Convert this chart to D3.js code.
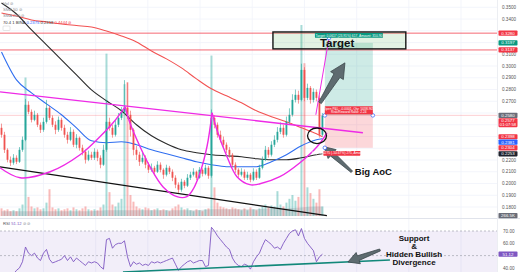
<!DOCTYPE html>
<html lang="en">
<head>
<meta charset="UTF-8">
<title>Chart</title>
<script src="https://cdn.jsdelivr.net/npm/d3@7"></script>
<style>
  body { margin: 0; background: #fff; }
  svg { display: block; font-family: "Liberation Sans", Arial, sans-serif; }
</style>
</head>
<body>
<div id="chart"></div>
<script>
// candle data (one per bar, open = previous close)
var firstOpen = 0.2474;
var closes = [0.2415,0.2287,0.2202,0.2177,0.2219,0.2185,0.2287,0.2372,0.2670,0.2610,
  0.2542,0.2585,0.2500,0.2457,0.2525,0.2644,0.2559,0.2500,0.2457,0.2542,
  0.2474,0.2415,0.2372,0.2440,0.2330,0.2389,0.2304,0.2270,0.2202,0.2245,
  0.2219,0.2270,0.2219,0.2160,0.2287,0.2525,0.2474,0.2415,0.2500,0.2559,
  0.2610,0.2644,0.2585,0.2457,0.2287,0.2245,0.2185,0.2219,0.2160,0.2117,
  0.2134,0.2100,0.2160,0.2117,0.2075,0.2134,0.2100,0.2049,0.1990,0.1947,
  0.2015,0.1981,0.2049,0.2075,0.2100,0.2049,0.2117,0.2083,0.2134,0.2066,
  0.2559,0.2500,0.2415,0.2372,0.2330,0.2287,0.2245,0.2160,0.2117,0.2075,
  0.2100,0.2049,0.2075,0.2032,0.2100,0.2049,0.2134,0.2202,0.2287,0.2245,
  0.2330,0.2372,0.2440,0.2474,0.2415,0.2525,0.2585,0.2712,0.2755,0.2712,
  0.2967,0.2729,0.2814,0.2712,0.2780,0.2729,0.2415,0.2577];
var highs = [0.2510,0.2440,0.2300,0.2230,0.2250,0.2240,0.2310,0.2400,0.2720,0.2700,
  0.2630,0.2620,0.2600,0.2520,0.2560,0.2712,0.2660,0.2580,0.2530,0.2570,
  0.2560,0.2500,0.2440,0.2480,0.2460,0.2420,0.2400,0.2330,0.2290,0.2280,
  0.2270,0.2300,0.2290,0.2240,0.2330,0.2712,0.2560,0.2500,0.2540,0.2600,
  0.2650,0.2880,0.2860,0.2620,0.2470,0.2320,0.2270,0.2260,0.2240,0.2180,
  0.2170,0.2150,0.2190,0.2180,0.2130,0.2160,0.2150,0.2120,0.2070,0.2010,
  0.2040,0.2030,0.2080,0.2100,0.2130,0.2110,0.2140,0.2130,0.2160,0.2150,
  0.2630,0.2580,0.2520,0.2450,0.2400,0.2350,0.2310,0.2260,0.2180,0.2130,
  0.2130,0.2120,0.2100,0.2090,0.2130,0.2120,0.2160,0.2230,0.2320,0.2310,
  0.2360,0.2410,0.2480,0.2520,0.2500,0.2570,0.2640,0.2760,0.2800,0.2790,
  0.3020,0.2990,0.2850,0.2830,0.2810,0.2800,0.2750,0.2600];
var lows = [0.2390,0.2260,0.2180,0.2150,0.2160,0.2165,0.2175,0.2270,0.2360,0.2590,
  0.2520,0.2530,0.2480,0.2430,0.2440,0.2510,0.2540,0.2480,0.2420,0.2440,
  0.2450,0.2390,0.2340,0.2360,0.2310,0.2300,0.2280,0.2240,0.2170,0.2190,
  0.2200,0.2200,0.2190,0.2130,0.2150,0.2270,0.2450,0.2390,0.2400,0.2480,
  0.2540,0.2590,0.2550,0.2400,0.2240,0.2200,0.2150,0.2170,0.2130,0.2090,
  0.2100,0.2070,0.2090,0.2095,0.2040,0.2060,0.2080,0.2020,0.1960,0.1920,
  0.1930,0.1960,0.1970,0.2030,0.2060,0.2030,0.2040,0.2060,0.2070,0.2040,
  0.2050,0.2470,0.2390,0.2350,0.2300,0.2260,0.2220,0.2140,0.2090,0.2050,
  0.2060,0.2030,0.2030,0.2010,0.2020,0.2030,0.2040,0.2120,0.2190,0.2220,
  0.2230,0.2310,0.2350,0.2420,0.2390,0.2400,0.2500,0.2570,0.2690,0.2680,
  0.2700,0.2700,0.2710,0.2680,0.2690,0.2700,0.2390,0.2400];
var volumes = [8,6,7,5,6,5,8,12,145,20,
  10,8,9,7,8,14,28,9,7,8,
  6,7,8,6,9,7,6,8,10,7,
  6,7,6,9,12,170,25,12,10,14,
  18,138,140,22,15,10,8,7,9,8,
  6,7,8,6,7,6,5,8,10,12,
  9,7,8,6,5,7,6,5,7,8,
  168,30,14,10,9,8,7,9,8,7,
  6,8,6,9,7,6,8,10,12,9,
  11,10,26,12,10,14,18,22,16,20,
  200,160,30,24,18,14,28,10];
var rsi = [32,30,28,31,35,38,40,45,57,52,
  50,52,48,46,52,55,47,44,45,46,
  47,50,46,49,45,48,46,44,42,45,
  44,45,44,41,39,63,64,56,59,60,
  60,62,49,41,45,43,44,42,43,42,
  45,44,45,44,45,46,47,48,43,38,
  41,43,45,46,44,45,46,46,41,42,
  73,70,66,63,60,57,55,48,44,42,
  41,43,42,39,45,49,52,58,63,61,
  59,56,57,55,60,64,68,70,71,66,
  72,64,60,57,54,45,49,51.12];

// moving averages, sampled at these bar indices
var maIdx = [0,5,10,15,20,25,30,35,40,45,50,55,60,65,70,75,80,85,90,95,100,105,107];
var ma200 = [0.3452,0.3426,0.3392,0.3375,0.3358,0.3345,0.3332,0.3298,0.3256,0.3205,0.3128,0.3061,0.2984,0.2891,0.2806,0.2746,0.2687,0.2619,0.2568,0.2525,0.2474,0.2423,0.2398];
var ma100 = [0.3537,0.3443,0.3307,0.3180,0.3052,0.2925,0.2797,0.2704,0.2619,0.2500,0.2406,0.2338,0.2287,0.2262,0.2245,0.2236,0.2228,0.2211,0.2202,0.2202,0.2219,0.2245,0.2253];
var ma50 = [0.3120,0.2882,0.2772,0.2678,0.2585,0.2474,0.2364,0.2347,0.2355,0.2330,0.2287,0.2253,0.2219,0.2185,0.2160,0.2143,0.2143,0.2143,0.2185,0.2245,0.2321,0.2372,0.2381];
var volMA = [5,5,5,5,5,5,5,6,6,6,6,6,6,6,7,7,7,7,8,8,9,10,10];

var priceTicks = [0.35,0.34,0.33,0.32,0.31,0.30,0.29,0.28,0.27,0.26,0.25,0.24,0.23,0.22,0.21,0.20,0.19,0.18];
var rsiTicks = [70,60,50,40];

// drawings, in [bar index, price]
var levels = [0.3280, 0.3137];
var trendTop = [[-0.5,0.2780],[120.5,0.2432]];
var trendBottom = [[-0.5,0.2142],[108.5,0.1726]];
var cup1 = [[-0.5,0.2134],[6.2,0.2049],[16.2,0.2100],[26.2,0.2245],[32.8,0.2398],[37.2,0.2517],[41.2,0.2653]];
var cup2 = [[41.2,0.2653],[42.8,0.2517],[46.2,0.2313],[49.5,0.2143],[53.8,0.1973],[58.5,0.1888],[61.8,0.1888],[63.8,0.1947],[66.2,0.2092],[68.5,0.2313],[70.2,0.2602]];
var cup3 = [[70.2,0.2602],[71.8,0.2457],[75.2,0.2227],[78.5,0.2058],[82.8,0.1990],[86.2,0.1998],[92.8,0.2058],[99.5,0.2177],[105.2,0.2313],[108.5,0.2432]];
var riseLine = [[104.8,0.2585],[109.2,0.3239]];
var targetBox = [[90.5,0.3290],[134.8,0.3146]];
var posBars = [107.8,123.8];
var posPrices = [0.2580,0.3197,0.2304]; // entry, target, stop
var aoc = [105.2,0.2406];
var arrowUp = [[106.2,0.2687],[114.5,0.3027]];
var arrowAoc = [[116.8,0.2100],[107.5,0.2313]];
var rsiSupport = [[40.5,36.7],[129.5,46.4]];
var rsiArrow = [[126.2,54.6],[115.5,44.8]];

var W = 520, H = 272, plotW = 497, paneBottom = 218;
var green = "#26a69a", red = "#ef5350", magenta = "#ee2ae6";

var svg = d3.select("#chart").append("svg").attr("width", W).attr("height", H);

var x = d3.scaleLinear().domain([-0.5, 165.2]).range([0, plotW]);
var y = d3.scaleLinear().domain([0.18, 0.35]).range([207, 7.3]);
var yVol = d3.scaleLinear().domain([0, 200]).range([216, 25]);
var yRsi = d3.scaleLinear().domain([30, 70]).range([280.2, 231]);

var defs = svg.append("defs");
defs.append("clipPath").attr("id", "cp").append("rect").attr("width", plotW).attr("height", paneBottom);
defs.append("clipPath").attr("id", "cr").append("rect").attr("y", paneBottom + 1).attr("width", plotW).attr("height", H - paneBottom);

var bars = closes.map(function(c, i) {
  return {i: i, o: i ? closes[i - 1] : firstOpen, c: c, h: highs[i], l: lows[i], v: volumes[i], r: rsi[i]};
});

// grid
var grid = svg.append("g");
grid.selectAll(".hg").data(priceTicks).enter().append("line")
  .attr("x1", 0).attr("x2", plotW).attr("y1", d => y(d)).attr("y2", d => y(d))
  .attr("stroke", "#f0f3fa").attr("stroke-width", 0.8);
grid.selectAll(".vg").data(d3.range(14, 165, 17.4)).enter().append("line")
  .attr("x1", d => x(d)).attr("x2", d => x(d)).attr("y1", 0).attr("y2", H)
  .attr("stroke", "#f0f3fa").attr("stroke-width", 0.8);

var pane = svg.append("g").attr("clip-path", "url(#cp)");

// volume + volume MA
pane.selectAll(".vol").data(bars).enter().append("rect")
  .attr("x", d => x(d.i) - 1).attr("width", 2)
  .attr("y", d => yVol(d.v)).attr("height", d => yVol(0) - yVol(d.v))
  .attr("fill", d => d.c >= d.o ? "rgba(38,166,154,0.4)" : "rgba(239,83,80,0.4)");
pane.append("path")
  .datum(maIdx.map((d, k) => [d, volMA[k]]))
  .attr("d", d3.area().x(d => x(d[0])).y0(yVol(0)).y1(d => yVol(d[1])).curve(d3.curveMonotoneX))
  .attr("fill", "rgba(120,123,134,0.25)");

// position tool zones
var px0 = x(posBars[0]), px1 = x(posBars[1]);
pane.append("rect").attr("x", px0).attr("width", px1 - px0)
  .attr("y", y(posPrices[1])).attr("height", y(posPrices[0]) - y(posPrices[1]))
  .attr("fill", "rgba(8,153,129,0.2)");
pane.append("rect").attr("x", px0).attr("width", px1 - px0)
  .attr("y", y(posPrices[0])).attr("height", y(posPrices[2]) - y(posPrices[0]))
  .attr("fill", "rgba(242,54,69,0.2)");

// horizontal levels
pane.selectAll(".lvl").data(levels).enter().append("line")
  .attr("x1", 0).attr("x2", plotW).attr("y1", d => y(d)).attr("y2", d => y(d))
  .attr("stroke", "#f23645").attr("stroke-opacity", 0.75).attr("stroke-width", 1);
pane.append("line").attr("x1", 0).attr("x2", plotW)
  .attr("y1", y(posPrices[0])).attr("y2", y(posPrices[0]))
  .attr("stroke", "rgba(242,54,69,0.3)").attr("stroke-width", 0.8);

// target box
pane.append("rect")
  .attr("x", x(targetBox[0][0])).attr("y", y(targetBox[0][1]))
  .attr("width", x(targetBox[1][0]) - x(targetBox[0][0]))
  .attr("height", y(targetBox[1][1]) - y(targetBox[0][1]))
  .attr("fill", "rgba(76,175,80,0.16)").attr("stroke", "#151515").attr("stroke-width", 1.4);

// moving averages
var maLine = d3.line().x(d => x(d[0])).y(d => y(d[1])).curve(d3.curveMonotoneX);
[[ma200, "#f25252"], [ma100, "#2a2a2a"], [ma50, "#2f6ef0"]].forEach(function(m) {
  pane.append("path").datum(maIdx.map((d, k) => [d, m[0][k]]))
    .attr("d", maLine).attr("fill", "none").attr("stroke", m[1]).attr("stroke-width", 1.1);
});

// candles
var cg = pane.selectAll(".candle").data(bars).enter().append("g");
cg.append("line").attr("x1", d => x(d.i)).attr("x2", d => x(d.i))
  .attr("y1", d => y(d.h)).attr("y2", d => y(d.l))
  .attr("stroke", d => d.c >= d.o ? green : red).attr("stroke-width", 0.6);
cg.append("rect").attr("x", d => x(d.i) - 0.9).attr("width", 1.8)
  .attr("y", d => y(Math.max(d.o, d.c)))
  .attr("height", d => Math.max(0.6, Math.abs(y(d.o) - y(d.c))))
  .attr("fill", d => d.c >= d.o ? green : red);

// trend lines and cups
var pl = d3.line().x(d => x(d[0])).y(d => y(d[1]));
pane.append("path").datum(trendTop).attr("d", pl).attr("stroke", magenta).attr("stroke-width", 1.3).attr("fill", "none");
pane.append("path").datum(trendBottom).attr("d", pl).attr("stroke", "#111").attr("stroke-width", 1.3).attr("fill", "none");
var cupLine = d3.line().x(d => x(d[0])).y(d => y(d[1])).curve(d3.curveCatmullRom.alpha(0.5));
[cup1, cup2, cup3].forEach(function(c) {
  pane.append("path").datum(c).attr("d", cupLine).attr("stroke", magenta).attr("stroke-width", 1.4).attr("fill", "none");
});
pane.append("path").datum(riseLine).attr("d", pl).attr("stroke", magenta).attr("stroke-width", 1).attr("fill", "none");

// circle round the area of concern
pane.append("ellipse").attr("cx", x(aoc[0])).attr("cy", y(aoc[1])).attr("rx", 9.5).attr("ry", 7.8)
  .attr("fill", "none").attr("stroke", "#111").attr("stroke-width", 1.3);

// arrows
function fatArrow(g, a, b, sx, sy, hl, hw, tw, nw) {
  var x1 = sx(a[0]), y1 = sy(a[1]), x2 = sx(b[0]), y2 = sy(b[1]);
  var L = Math.hypot(x2 - x1, y2 - y1), ang = Math.atan2(y2 - y1, x2 - x1) * 180 / Math.PI;
  var pts = [[0, -tw / 2], [L - hl, -nw / 2], [L - hl, -hw / 2], [L, 0], [L - hl, hw / 2], [L - hl, nw / 2], [0, tw / 2]];
  g.append("polygon").attr("points", pts.map(p => p.join(",")).join(" "))
    .attr("transform", "translate(" + x1 + "," + y1 + ") rotate(" + ang + ")")
    .attr("fill", "#5e6b70").attr("stroke", "#3a4549").attr("stroke-width", 0.7);
}
fatArrow(svg, arrowUp[0], arrowUp[1], x, y, 15, 15, 3, 7);
fatArrow(svg, arrowAoc[0], arrowAoc[1], x, y, 11, 12, 2, 5);

// handles
[[riseLine[1][0], riseLine[1][1]], [posBars[0], posPrices[0]], [posBars[1], posPrices[0]], [posBars[0], posPrices[2]]].forEach(function(p) {
  svg.append("circle").attr("cx", x(p[0])).attr("cy", y(p[1])).attr("r", 1.8)
    .attr("fill", "#fff").attr("stroke", "#2962ff").attr("stroke-width", 0.7);
});

// position labels
function tag(cx, cy, lines, bg, w) {
  var h = lines.length * 3.6 + 1.2;
  svg.append("rect").attr("x", cx - w / 2).attr("y", cy - h / 2).attr("width", w).attr("height", h).attr("fill", bg).attr("rx", 0.6);
  lines.forEach(function(t, k) {
    svg.append("text").attr("x", cx).attr("y", cy - h / 2 + 3.6 + k * 3.6).attr("text-anchor", "middle")
      .attr("font-size", 3.3).attr("fill", "#fff").text(t);
  });
}
var pmid = (px0 + px1) / 2;
tag(x(targetBox[0][0]) + 76, y(targetBox[0][1]) + 3.4, ["Target: 0.0617 (23.91%) 617, Amount: 310.90"], "#089981", 68);
tag(pmid, y(posPrices[0]) - 5, ["Open P&L: -0.0001, Qty: 5038.905", "Risk/Reward Ratio: 2.24"], "#f23645", 48);
tag(px0 + 17, y(posPrices[2]) + 5.5, ["Stop: 0.0275 (-10.67%) 275, Amount: 138"], "#f23645", 37);

// big texts
svg.append("text").attr("x", x(targetBox[0][0]) + 47).attr("y", y(targetBox[1][1]) - 2.3)
  .attr("font-size", 11.5).attr("font-weight", "bold").attr("fill", "#111").text("Target");
svg.append("text").attr("x", x(arrowAoc[0][0]) + 3).attr("y", y(arrowAoc[0][1]) + 3)
  .attr("font-size", 9.5).attr("font-weight", "bold").attr("fill", "#111").text("Big AoC");

// RSI pane
svg.append("line").attr("x1", 0).attr("x2", W).attr("y1", paneBottom + 0.5).attr("y2", paneBottom + 0.5).attr("stroke", "#e0e3eb");
var rp = svg.append("g").attr("clip-path", "url(#cr)");
rp.append("rect").attr("x", 0).attr("width", plotW).attr("y", yRsi(70)).attr("height", yRsi(30) - yRsi(70))
  .attr("fill", "rgba(126,87,194,0.1)");
rp.selectAll(".rl").data([70, 50, 30]).enter().append("line")
  .attr("x1", 0).attr("x2", plotW).attr("y1", d => yRsi(d)).attr("y2", d => yRsi(d))
  .attr("stroke", "#9598a1").attr("stroke-width", 0.6).attr("stroke-dasharray", "2,2");
rp.append("path").datum(bars)
  .attr("d", d3.line().x(d => x(d.i)).y(d => yRsi(d.r)))
  .attr("fill", "none").attr("stroke", "#7e57c2").attr("stroke-width", 0.9);
rp.append("path").datum(rsiSupport)
  .attr("d", d3.line().x(d => x(d[0])).y(d => yRsi(d[1])))
  .attr("stroke", "#12887a").attr("stroke-width", 1.6);
fatArrow(svg, rsiArrow[0], rsiArrow[1], x, yRsi, 11, 12, 2, 5);

var sx = x(rsiArrow[0][0]) + 34;
["Support", "&", "Hidden Bullish", "Divergence"].forEach(function(t, k) {
  svg.append("text").attr("x", sx).attr("y", 241 + k * 8).attr("text-anchor", "middle")
    .attr("font-size", 8).attr("font-weight", "bold").attr("fill", "#111").text(t);
});

// right axis
var axis = svg.append("g").attr("font-size", 4.6).attr("fill", "#555");
svg.append("line").attr("x1", plotW + 0.5).attr("x2", plotW + 0.5).attr("y1", 0).attr("y2", H).attr("stroke", "#eceef2");
var fmt = d3.format(".4f");
var tags = [
  {p: levels[0], c: "#f23645"}, {p: posPrices[1], c: "#089981"}, {p: levels[1], c: "#f23645"},
  {p: posPrices[0], c: "#6a6d78"}, {p: closes[closes.length - 1], c: "#f23645", two: "01:07:58"},
  {p: ma200[ma200.length - 1], c: "#f23645"}, {p: ma50[ma50.length - 1], c: "#2962ff"},
  {p: posPrices[2], c: "#f23645"}, {p: ma100[ma100.length - 1], c: "#1e222d"}
];
tags.sort((a, b) => b.p - a.p);
var last = -10;
tags.forEach(function(t) {
  var h = t.two ? 9 : 5.2;
  t.y = Math.max(y(t.p), last + 5.4);
  last = t.y + (t.two ? 3.8 : 0);
  t.h = h;
});
axis.selectAll(".tk").data(priceTicks.filter(p => tags.every(t => Math.abs(y(p) - t.y) > 4))).enter().append("text")
  .attr("x", 502).attr("y", d => y(d) + 1.6).text(d => fmt(d));
tags.forEach(function(t) {
  svg.append("rect").attr("x", 498.5).attr("y", t.y - 2.6).attr("width", 19).attr("height", t.h).attr("fill", t.c).attr("rx", 0.8);
  svg.append("text").attr("x", 508).attr("y", t.y + 1.5).attr("text-anchor", "middle").attr("font-size", 4.4).attr("fill", "#fff").text(fmt(t.p));
  if (t.two) svg.append("text").attr("x", 508).attr("y", t.y + 5.4).attr("text-anchor", "middle").attr("font-size", 4.2).attr("fill", "#fff").text(t.two);
});
axis.selectAll(".rt").data(rsiTicks.filter(v => Math.abs(yRsi(v) - yRsi(rsi[rsi.length - 1])) > 4)).enter().append("text")
  .attr("x", 503).attr("y", d => yRsi(d) + 1.6).text(d => d.toFixed(2));
svg.append("rect").attr("x", 498.5).attr("y", yRsi(rsi[rsi.length - 1]) - 2.6).attr("width", 19).attr("height", 5.2).attr("fill", "#7e57c2").attr("rx", 0.8);
svg.append("text").attr("x", 508).attr("y", yRsi(rsi[rsi.length - 1]) + 1.5).attr("text-anchor", "middle").attr("font-size", 4.4).attr("fill", "#fff").text(rsi[rsi.length - 1].toFixed(2));
svg.append("rect").attr("x", 498.5).attr("y", yVol(0) - 3).attr("width", 19).attr("height", 5.2).attr("fill", "#6a6d78").attr("rx", 0.8);
svg.append("text").attr("x", 508).attr("y", yVol(0) + 1.1).attr("text-anchor", "middle").attr("font-size", 4.4).attr("fill", "#fff").text("266.5K");

// legend texts top left
var lg = svg.append("g").attr("font-size", 4.2).attr("fill", "#8a8d96");
["Vol  \u2298", "SMA 50  \u2298", "SMA 200  \u2298"].forEach(function(t, k) {
  lg.append("text").attr("x", 3).attr("y", 5 + k * 6).text(t);
});
var l4 = lg.append("text").attr("x", 3).attr("y", 23.5);
l4.append("tspan").attr("fill", "#333").text("70.4 1 BINA ");
l4.append("tspan").attr("fill", "#2962ff").text("0.2375 ");
l4.append("tspan").attr("fill", "#333").text("0.2318 ");
l4.append("tspan").attr("fill", "#f23645").text("0.4444 \u2298");
lg.append("rect").attr("x", 3).attr("y", 26).attr("width", 7).attr("height", 4.5).attr("fill", "#fff").attr("stroke", "#ccc").attr("stroke-width", 0.5).attr("rx", 0.8);
var rl = svg.append("text").attr("x", 3).attr("y", 225).attr("font-size", 4.2).attr("fill", "#555");
rl.append("tspan").text("RSI ");
rl.append("tspan").attr("fill", "#7e57c2").text("51.12 ");
rl.append("tspan").attr("fill", "#8a8d96").text("\u2298 \u2298");
</script>
</body>
</html>
